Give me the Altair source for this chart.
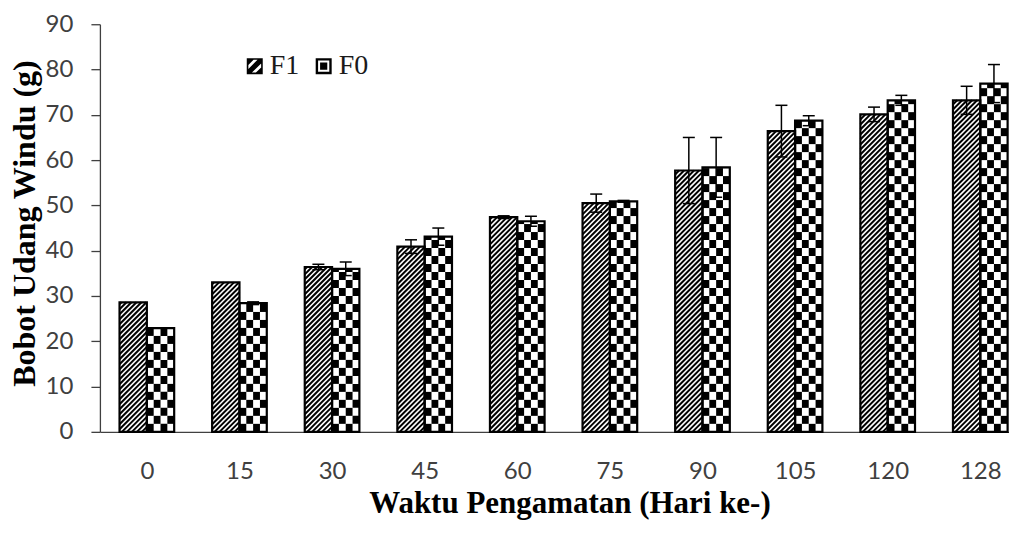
import altair as alt
import pandas as pd

# ---------------- data ----------------
days = ["0", "15", "30", "45", "60", "75", "90", "105", "120", "128"]
f1_mean = [28.6, 33.0, 36.4, 40.9, 47.4, 50.5, 57.7, 66.4, 70.1, 73.2]
f1_err = [0.0, 0.0, 0.6, 1.5, 0.3, 2.0, 7.3, 5.7, 1.6, 3.1]
f0_mean = [22.9, 28.4, 36.0, 43.1, 46.5, 50.9, 58.4, 68.7, 73.2, 76.9]
f0_err = [0.0, 0.3, 1.5, 1.9, 1.1, 0.2, 6.6, 1.1, 1.1, 4.2]
series_names = ["F1", "F0"]

# ---------------- layout / style constants ----------------
PLOT_W, PLOT_H = 910, 408
X_DOM = [-0.507, 9.31]
Y_DOM = [0, 90]
BAR_W = 0.295
px_x = PLOT_W / (X_DOM[1] - X_DOM[0])
px_y = PLOT_H / (Y_DOM[1] - Y_DOM[0])
STRIPE_RISE = BAR_W * px_x / px_y      # 45 degree hatch across one bar
STRIPE_STEP = 5 / px_y                 # hatch period (5 px)
CELL_H = 8 / px_y                      # checker cell height (8 px)
CAP = 6 / px_x                         # half width of error caps

rows = []
for i, d in enumerate(days):
    rows.append(dict(idx=i, day=d, series="F1", v=f1_mean[i], err=f1_err[i], xl=i - BAR_W))
    rows.append(dict(idx=i, day=d, series="F0", v=f0_mean[i], err=f0_err[i], xl=i))
df = pd.DataFrame(rows)

xscale = alt.Scale(domain=X_DOM, nice=False, zero=False)
yscale = alt.Scale(domain=Y_DOM, nice=False, zero=True)

labels_js = "[" + ",".join("'%s'" % d for d in days) + "]"
AXC = "#404040"
TFONT = "Liberation Serif"

x_axis = alt.Axis(
    values=list(range(len(days))), labelExpr=labels_js + "[datum.value]",
    ticks=False, tickSize=0, grid=False, domainColor=AXC, domainWidth=1.3,
    labelFont="Lato", labelFontSize=24, labelColor=AXC, labelPadding=47,
    labelBaseline="alphabetic", labelFlush=False, labelOverlap=False,
    title="Waktu Pengamatan (Hari ke-)", titleFont=TFONT,
    titleFontWeight="bold", titleFontSize=31, titleColor="black",
    titleX=470, titleY=81, titleBaseline="alphabetic", titleAlign="center",
)
y_axis = alt.Axis(
    values=list(range(0, 91, 10)), grid=False, tickSize=9, tickColor=AXC,
    tickWidth=1.3, domainColor=AXC, domainWidth=1.3,
    labelFont="Lato", labelFontSize=24, labelColor=AXC, labelPadding=18,
    title="Bobot Udang Windu (g)", titleFont=TFONT,
    titleFontWeight="bold", titleFontSize=32, titleColor="black",
    titleAngle=270, titleX=-65, titleY=199, titleBaseline="alphabetic",
    titleAlign="center",
)


def X(field):
    return alt.X(field, type="quantitative", scale=xscale, axis=x_axis)


def Y(field):
    return alt.Y(field, type="quantitative", scale=yscale, axis=y_axis)


base = alt.Chart(df)

# hatched fill for F1
stripes = base.transform_filter("datum.series == 'F1'").transform_calculate(
    k=f"sequence({-STRIPE_RISE}, datum.v, {STRIPE_STEP})"
).transform_flatten(["k"]).transform_calculate(
    t0=f"max(0, -datum.k / {STRIPE_RISE})",
    t1=f"min(1, (datum.v - datum.k) / {STRIPE_RISE})",
).transform_filter("datum.t1 > datum.t0").transform_calculate(
    sx=f"datum.xl + datum.t0 * {BAR_W}",
    sx2=f"datum.xl + datum.t1 * {BAR_W}",
    sy=f"datum.k + datum.t0 * {STRIPE_RISE}",
    sy2=f"datum.k + datum.t1 * {STRIPE_RISE}",
).mark_rule(color="black", strokeWidth=2, strokeCap="butt").encode(
    x=X("sx"), x2="sx2", y=Y("sy"), y2="sy2"
)

# checkerboard fill for F0
checker = base.transform_filter("datum.series == 'F0'").transform_calculate(
    r=f"sequence(0, ceil(datum.v / {CELL_H}))"
).transform_flatten(["r"]).transform_calculate(
    c="[0, 1, 2, 3]"
).transform_flatten(["c"]).transform_filter(
    "(datum.r + datum.c) % 2 == 0"
).transform_calculate(
    cx=f"datum.xl + datum.c * {BAR_W / 4}",
    cx2=f"datum.xl + (datum.c + 1) * {BAR_W / 4}",
    cy=f"datum.r * {CELL_H}",
    cy2=f"min((datum.r + 1) * {CELL_H}, datum.v)",
).mark_rect(color="black", strokeWidth=0).encode(
    x=X("cx"), x2="cx2", y=Y("cy"), y2="cy2"
)

# bar outlines
outline = base.transform_calculate(
    xr=f"datum.xl + {BAR_W}", y0="0"
).mark_rect(fill="white", fillOpacity=0, stroke="black", strokeWidth=2.2).encode(
    x=X("xl"), x2="xr", y=Y("v"), y2="y0"
)

# error bars
errs = base.transform_filter("datum.err > 0").transform_calculate(
    cx=f"datum.xl + {BAR_W / 2}", lo="datum.v - datum.err", hi="datum.v + datum.err"
)
err_rule = errs.mark_rule(color="black", strokeWidth=1.5).encode(
    x=X("cx"), y=Y("lo"), y2="hi"
)
caps = errs.transform_calculate(ey="[datum.lo, datum.hi]").transform_flatten(
    ["ey"]
).transform_calculate(
    c1=f"datum.cx - {CAP}", c2=f"datum.cx + {CAP}"
).mark_rule(color="black", strokeWidth=1.5).encode(x=X("c1"), x2="c2", y=Y("ey"))

# legend (pattern-like swatches as custom symbols)
F1_PATH = ("M-1,-1H1V1H-1Z M-0.8,-0.8V0.8H0.8V-0.8Z "
           "M-0.8,0.8L-0.8,0.35L0.35,-0.8L0.8,-0.8L0.8,-0.35L-0.35,0.8Z "
           "M-0.8,-0.8L-0.15,-0.8L-0.8,-0.15Z M0.8,0.8L0.15,0.8L0.8,0.15Z")
F0_PATH = ("M-1,-1H1V1H-1Z M-0.7,-0.7V0.7H0.7V-0.7Z "
           "M-0.45,-0.45H0.45V0.45H-0.45Z")
legend_layer = base.mark_point(size=0, filled=True, color="black").encode(
    x=X("idx"), y=Y("v"),
    shape=alt.Shape(
        "series:N",
        scale=alt.Scale(domain=series_names, range=[F1_PATH, F0_PATH]),
        legend=alt.Legend(
            orient="none", legendX=141, legendY=28, direction="horizontal",
            title=None, symbolSize=256, symbolFillColor="black",
            symbolStrokeWidth=0, symbolOpacity=1,
            labelFont=TFONT, labelFontSize=28, labelColor="#1a1a1a",
            labelOffset=1, columnPadding=10, padding=0,
        ),
    ),
)

chart = alt.layer(
    stripes, checker, outline, err_rule, caps, legend_layer
).properties(
    width=PLOT_W, height=PLOT_H,
    autosize=alt.AutoSizeParams(type="none"),
    padding={"left": 92, "top": 16, "right": 0, "bottom": 90},
    background="white",
).configure_view(stroke=None).configure_axis(
    titleFont=TFONT, titleFontWeight="bold", titleColor="black"
)

chart.save("out.html", embed_options={"renderer": "svg", "actions": False})
